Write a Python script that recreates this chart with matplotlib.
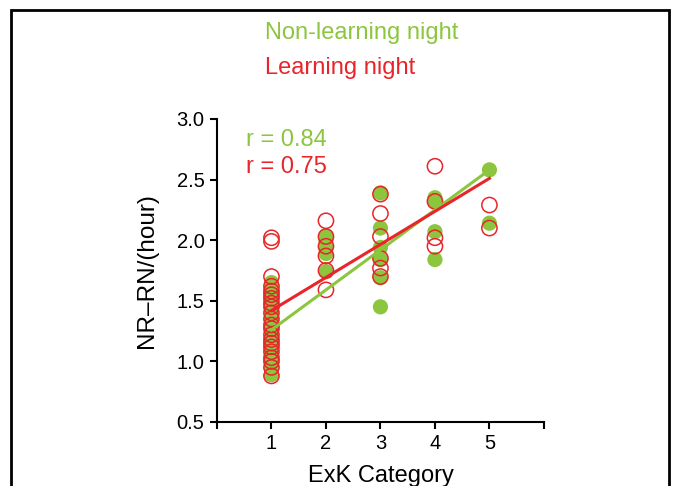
"""
Scatter of NR-RN per hour against ExK category, learning vs non-learning nights,
with a linear fit for each night type.
"""

import numpy as np
import matplotlib

matplotlib.use("Agg")
import matplotlib.pyplot as plt
from matplotlib.patches import Rectangle

plt.rcParams["font.family"] = ["Liberation Sans", "DejaVu Sans"]

GREEN = "#8cc63f"
RED = "#e8252a"

# --- Data -----------------------------------------------------------------
# Non-learning night (filled green)
nl_cat1 = [1.65, 1.60, 1.55, 1.50, 1.45, 1.40, 1.35, 1.30, 1.25, 1.20,
           1.15, 1.10, 1.05, 1.00, 0.95, 0.89]
nl_cat2 = [2.03, 2.00, 1.94, 1.89, 1.74]
nl_cat3 = [2.39, 2.10, 1.94, 1.84, 1.69, 1.45]
nl_cat4 = [2.35, 2.32, 2.07, 1.84]
nl_cat5 = [2.58, 2.14]

# Learning night (open red)
l_cat1 = [2.02, 1.99, 1.70, 1.62, 1.58, 1.55, 1.52, 1.48, 1.45, 1.40,
          1.35, 1.30, 1.27, 1.22, 1.18, 1.15, 1.12, 1.08, 1.03, 1.00,
          0.95, 0.88]
l_cat2 = [2.16, 2.03, 1.95, 1.87, 1.75, 1.59]
l_cat3 = [2.38, 2.22, 2.03, 1.85, 1.77, 1.70]
l_cat4 = [2.61, 2.32, 2.02, 1.95]
l_cat5 = [2.29, 2.10]

# Regression line endpoints at category 1 and 5
fit_x = [1, 5]
nl_fit = [1.26, 2.58]
l_fit = [1.42, 2.51]

r_nl = 0.84
r_l = 0.75


def stack(groups):
    xs, ys = [], []
    for cat, vals in enumerate(groups, start=1):
        xs += [cat] * len(vals)
        ys += vals
    return np.array(xs), np.array(ys)


nl_x, nl_y = stack([nl_cat1, nl_cat2, nl_cat3, nl_cat4, nl_cat5])
l_x, l_y = stack([l_cat1, l_cat2, l_cat3, l_cat4, l_cat5])

fig = plt.figure(figsize=(6.73, 4.86), dpi=100)
ax = fig.add_axes([0.3224, 0.1317, 0.4858, 0.6235])

ax.scatter(nl_x, nl_y, s=120, color=GREEN, edgecolor="none", zorder=2)
ax.scatter(l_x, l_y, s=120, facecolor="none", edgecolor=RED,
           linewidth=1.1, zorder=3)
ax.plot(fit_x, nl_fit, color=GREEN, lw=2.2, zorder=4)
ax.plot(fit_x, l_fit, color=RED, lw=2.2, zorder=4)

ax.text(0.54, 2.83, f"r = {r_nl:.2f}", color=GREEN, fontsize=17, va="center")
ax.text(0.54, 2.60, f"r = {r_l:.2f}", color=RED, fontsize=17, va="center")

ax.set_xlim(0, 6)
ax.set_ylim(0.5, 3.0)
ax.set_xticks(range(0, 7))
ax.set_xticklabels(["", "1", "2", "3", "4", "5", ""])
ax.set_yticks(np.arange(0.5, 3.01, 0.5))
ax.set_yticklabels([f"{v:.1f}" for v in np.arange(0.5, 3.01, 0.5)])
ax.tick_params(direction="out", length=5, width=1.5, labelsize=14.5, pad=4)
for side in ("top", "right"):
    ax.spines[side].set_visible(False)
for side in ("left", "bottom"):
    ax.spines[side].set_linewidth(1.5)
ax.set_xlabel("ExK Category", fontsize=17, labelpad=8)
ax.set_ylabel("NR\u2013RN/(hour)", fontsize=17.5, labelpad=13)

fig.text(0.394, 0.932, "Non-learning night", color=GREEN, fontsize=17,
         va="center", ha="left")
fig.text(0.394, 0.860, "Learning night", color=RED, fontsize=17,
         va="center", ha="left")

# frame round the whole panel (open at the bottom)
fig.patches.append(Rectangle((11 / 673, -0.05), 658 / 673, 1.04 - 5 / 486,
                             transform=fig.transFigure, fill=False,
                             edgecolor="black", linewidth=2.0))

fig.savefig("out.png", dpi=100)
